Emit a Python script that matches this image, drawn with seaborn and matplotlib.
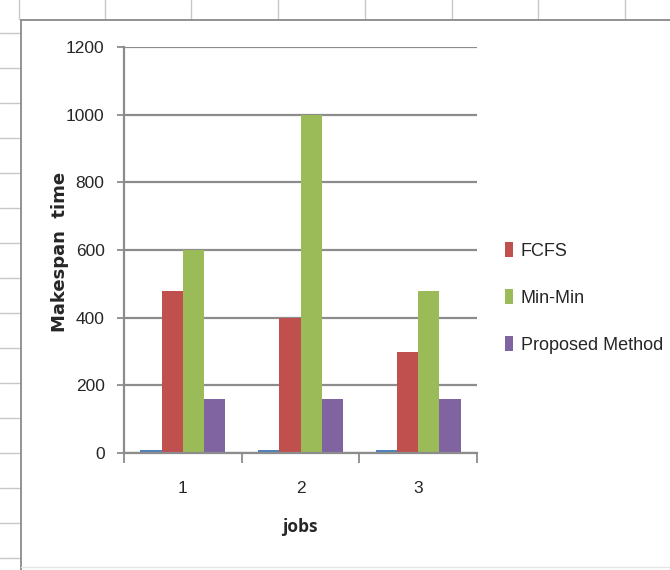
import matplotlib
matplotlib.use("Agg")
import matplotlib.pyplot as plt
from matplotlib.lines import Line2D
from matplotlib.patches import Patch
import seaborn as sns
import pandas as pd

# Makespan per job set for each scheduling method
jobs = ["1", "2", "3"]
series_names = ["Series1", "FCFS", "Min-Min", "Proposed Method"]
series1 = [8, 8, 8]
fcfs = [480, 400, 300]
min_min = [600, 1000, 480]
proposed = [160, 160, 160]
palette = ["#4F81BD", "#C0504D", "#9BBB59", "#8064A2"]
y_ticks = [0, 200, 400, 600, 800, 1000, 1200]

rows = []
for name, vals in zip(series_names, [series1, fcfs, min_min, proposed]):
    for j, v in zip(jobs, vals):
        rows.append({"jobs": j, "method": name, "makespan": v})
df = pd.DataFrame(rows)

sns.set_theme(style="white")
plt.rcParams["font.family"] = ["Liberation Sans", "DejaVu Sans"]

W, H = 670, 570
fig = plt.figure(figsize=(W / 100, H / 100), dpi=100)


def fx(x):
    return x / W


def fy(y):
    return 1 - y / H


# spreadsheet cell grid peeking around the embedded chart
sheet = "#c8c8c8"
for y in range(33, 570, 35):
    fig.add_artist(Line2D([fx(0), fx(20)], [fy(y), fy(y)], color=sheet, lw=1.0))
for x in [19, 105, 191, 278, 365, 452, 538, 625]:
    fig.add_artist(Line2D([fx(x), fx(x)], [fy(0), fy(19)], color=sheet, lw=1.0))
# chart frame
frame = "#8a8a8a"
fig.add_artist(Line2D([fx(21), fx(670)], [fy(20), fy(20)], color=frame, lw=1.3))
fig.add_artist(Line2D([fx(21), fx(21)], [fy(20), fy(570)], color=frame, lw=1.3))
fig.add_artist(Line2D([fx(21), fx(670)], [fy(567), fy(567)], color="#e6e6e6", lw=1.0))

ax_l, ax_r, ax_t, ax_b = 124, 477, 47, 453
ax = fig.add_axes([fx(ax_l), fy(ax_b), (ax_r - ax_l) / W, (ax_b - ax_t) / H])

sns.barplot(data=df, x="jobs", y="makespan", hue="method", order=jobs,
            hue_order=series_names, palette=palette, width=0.72,
            saturation=1, linewidth=0, legend=False, ax=ax)

ax.set_xlim(-0.5, 2.5)
ax.set_ylim(0, 1200)
ax.set_yticks(y_ticks)
ax.set_yticklabels([str(t) for t in y_ticks], fontsize=12.5)
ax.yaxis.grid(True, color="#8c8c8c", lw=1.6)
ax.set_axisbelow(True)

# category boundary ticks, labels centred between them
ax.set_xticks([-0.5, 0.5, 1.5, 2.5])
ax.set_xticklabels([])
ax.set_xticks(range(len(jobs)), minor=True)
ax.set_xticklabels(jobs, minor=True, fontsize=12.5)
ax.tick_params(axis="x", which="major", length=7, width=1.3, color="#8c8c8c", direction="out", bottom=True)
ax.tick_params(axis="x", which="minor", length=0, pad=20)
ax.tick_params(axis="y", length=5, width=1.3, color="#8c8c8c", direction="out", left=True, pad=9)

for side in ["top", "right"]:
    ax.spines[side].set_visible(False)
for side in ["left", "bottom"]:
    ax.spines[side].set_color("#8c8c8c")
    ax.spines[side].set_linewidth(1.6)

ax.set_xlabel("")
ax.set_ylabel("")
fig.text(fx(300), fy(527), "jobs", ha="center", va="center",
         fontsize=12.5, fontweight="bold", family=["Open Sans", "DejaVu Sans"])
fig.text(fx(60), fy(252), "Makespan  time", ha="center", va="center", rotation=90,
         fontsize=13, fontweight="bold", family=["DejaVu Sans"])

handles = [Patch(facecolor=c, edgecolor="none") for c in palette[1:]]
fig.legend(handles, series_names[1:], loc="upper left",
           bbox_to_anchor=(fx(505), fy(242)), frameon=False, fontsize=13,
           handlelength=0.42, handleheight=0.9, handletextpad=0.45,
           labelspacing=1.62, borderaxespad=0, borderpad=0)

fig.savefig("out.png", dpi=100, facecolor="white")
